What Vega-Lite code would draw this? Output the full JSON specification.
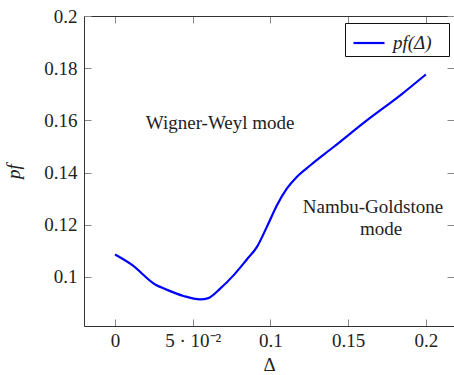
{
  "$schema": "https://vega.github.io/schema/vega-lite/v6.json",
  "width": 370,
  "height": 310,
  "autosize": {"type": "none"},
  "padding": {"left": 84, "top": 16, "right": 0, "bottom": 49},
  "background": "white",
  "config": {
    "view": {"stroke": null},
    "font": "Liberation Serif",
    "axis": {
      "domainColor": "#333333",
      "domainWidth": 1,
      "tickColor": "#888888",
      "tickWidth": 1,
      "tickSize": -7,
      "grid": false,
      "labelFont": "Liberation Serif",
      "labelFontSize": 19,
      "labelColor": "#222222",
      "titleFont": "Liberation Serif",
      "titleFontSize": 19,
      "titleFontWeight": "normal",
      "titleColor": "#222222"
    }
  },
  "datasets": {
    "curve": [
      {"delta": 0, "pf": 0.1086, "series": "pf(Δ)"},
      {"delta": 0.0107, "pf": 0.1047, "series": "pf(Δ)"},
      {"delta": 0.0258, "pf": 0.0971, "series": "pf(Δ)"},
      {"delta": 0.0333, "pf": 0.0951, "series": "pf(Δ)"},
      {"delta": 0.044, "pf": 0.0927, "series": "pf(Δ)"},
      {"delta": 0.0547, "pf": 0.0914, "series": "pf(Δ)"},
      {"delta": 0.0601, "pf": 0.0919, "series": "pf(Δ)"},
      {"delta": 0.0676, "pf": 0.0955, "series": "pf(Δ)"},
      {"delta": 0.0762, "pf": 0.1006, "series": "pf(Δ)"},
      {"delta": 0.0848, "pf": 0.1067, "series": "pf(Δ)"},
      {"delta": 0.0912, "pf": 0.1114, "series": "pf(Δ)"},
      {"delta": 0.0976, "pf": 0.1191, "series": "pf(Δ)"},
      {"delta": 0.1041, "pf": 0.1274, "series": "pf(Δ)"},
      {"delta": 0.1105, "pf": 0.1338, "series": "pf(Δ)"},
      {"delta": 0.1169, "pf": 0.1383, "series": "pf(Δ)"},
      {"delta": 0.1255, "pf": 0.1427, "series": "pf(Δ)"},
      {"delta": 0.1406, "pf": 0.1498, "series": "pf(Δ)"},
      {"delta": 0.162, "pf": 0.16, "series": "pf(Δ)"},
      {"delta": 0.1835, "pf": 0.1696, "series": "pf(Δ)"},
      {"delta": 0.2, "pf": 0.1776, "series": "pf(Δ)"}
    ],
    "labels": [
      {"delta": 0.0676, "pf": 0.1589, "text": "Wigner-Weyl mode"},
      {"delta": 0.166, "pf": 0.1267, "text": "Nambu-Goldstone"},
      {"delta": 0.1712, "pf": 0.1183, "text": "mode"}
    ]
  },
  "layer": [
    {
      "data": {"name": "curve"},
      "mark": {"type": "line", "strokeWidth": 2.2, "interpolate": "monotone"},
      "encoding": {
        "x": {
          "field": "delta",
          "type": "quantitative",
          "scale": {"domain": [-0.02, 0.2181], "nice": false, "zero": false},
          "axis": {
            "orient": "bottom",
            "values": [0, 0.05, 0.1, 0.15, 0.2],
            "labelExpr": "abs(datum.value - 0.05) < 1e-9 ? '5 · 10⁻²' : format(datum.value, '~g')",
            "labelPadding": 12,
            "title": "Δ",
            "titlePadding": 5
          }
        },
        "y": {
          "field": "pf",
          "type": "quantitative",
          "scale": {"domain": [0.0812, 0.2], "nice": false, "zero": false},
          "axis": {
            "orient": "left",
            "values": [0.1, 0.12, 0.14, 0.16, 0.18, 0.2],
            "format": "~g",
            "labelPadding": 14,
            "title": "pf",
            "titleFontStyle": "italic",
            "titlePadding": 20
          }
        },
        "color": {
          "field": "series",
          "type": "nominal",
          "scale": {"range": ["#0000ff"]},
          "legend": {
            "orient": "none",
            "legendX": 261,
            "legendY": 7,
            "title": null,
            "strokeColor": "#111111",
            "fillColor": "white",
            "padding": 3,
            "symbolType": "stroke",
            "symbolSize": 961,
            "symbolOffset": 4,
            "symbolStrokeWidth": 2.2,
            "labelFont": "Liberation Serif",
            "labelFontSize": 19,
            "labelFontStyle": "italic",
            "labelColor": "#222222",
            "labelOffset": 7,
            "labelExpr": "datum.label + '\u2800'"
          }
        }
      }
    },
    {
      "data": {"name": "labels"},
      "mark": {"type": "text", "font": "Liberation Serif", "fontSize": 19, "color": "#222222", "align": "center", "baseline": "middle"},
      "encoding": {
        "x": {
          "field": "delta",
          "type": "quantitative",
          "scale": {"domain": [-0.02, 0.2181], "nice": false, "zero": false},
          "axis": {"orient": "top", "values": [0, 0.05, 0.1, 0.15, 0.2], "labels": false, "title": null}
        },
        "y": {
          "field": "pf",
          "type": "quantitative",
          "scale": {"domain": [0.0812, 0.2], "nice": false, "zero": false},
          "axis": {"orient": "right", "values": [0.1, 0.12, 0.14, 0.16, 0.18, 0.2], "labels": false, "title": null, "domain": false}
        },
        "text": {"field": "text", "type": "nominal"}
      }
    }
  ],
  "resolve": {"axis": {"x": "independent", "y": "independent"}}
}
